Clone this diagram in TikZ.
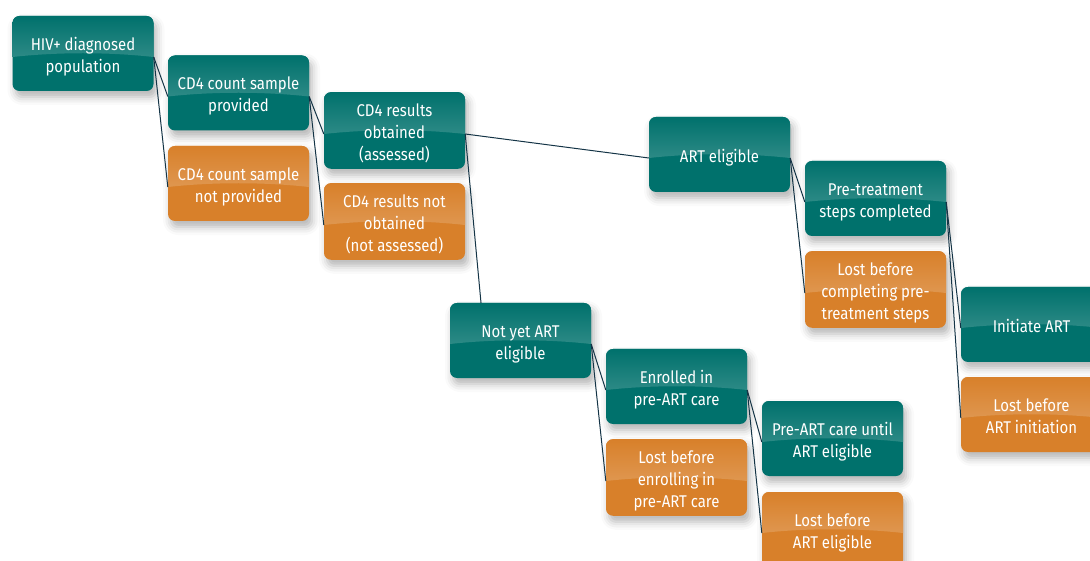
\documentclass[tikz,border=0pt]{standalone}
\usepackage{fontspec}
\setmainfont[FakeStretch=0.88]{Fira Sans}
\usetikzlibrary{shadows.blur}

\definecolor{tealbox}{RGB}{0,113,108}
\definecolor{orangebox}{RGB}{216,128,42}
\definecolor{linkcol}{RGB}{20,52,70}

% box text, set a little below the middle as in the reference
\newcommand{\boxtext}[1]{\begin{tabular}{@{}c@{}}\rule{0pt}{22pt}#1\end{tabular}}

\tikzset{
  box/.style={rectangle, rounded corners=7pt, minimum width=141pt, minimum height=75pt,
    inner sep=2pt, fill=#1, text=white,
    font=\fontsize{17}{22}\selectfont,
    blur shadow={shadow xshift=3pt, shadow yshift=-6pt, shadow blur radius=8pt, shadow opacity=30},
    path picture={
      \shade[sharp corners, top color=#1, bottom color=#1!68!white]
        (path picture bounding box.north west) -- (path picture bounding box.north east)
        -- ([yshift=-3.5pt]path picture bounding box.east)
        .. controls +(-45pt,5pt) and +(45pt,5pt) .. ([yshift=-3.5pt]path picture bounding box.west)
        -- cycle;
    }},
  stagebox/.style={box=tealbox},
  lostbox/.style={box=orangebox},
  link/.style={draw=linkcol, line width=1pt}
}

\begin{document}
\begin{tikzpicture}[x=1pt, y=-1pt]
    \useasboundingbox (0,0) rectangle (1090,561);
    \clip (0,0) rectangle (1090,561);

    % Cascade stages
    \node[stagebox] (hiv) at (83,53.5) {\boxtext{HIV+ diagnosed\\population}};
    \node[stagebox] (cdprov) at (238.5,93) {\boxtext{CD4 count sample\\provided}};
    \node[lostbox] (cdnot) at (238.5,183.5) {\boxtext{CD4 count sample\\not provided}};
    \node[stagebox] (resobt) at (394.5,130.5) {\boxtext{CD4 results\\obtained\\(assessed)}};
    \node[lostbox] (resnot) at (394.5,221.5) {\boxtext{CD4 results not\\obtained\\(not assessed)}};
    \node[stagebox] (arteli) at (719.5,154.5) {\boxtext{ART eligible}};
    \node[stagebox] (pretreat) at (875.5,198.5) {\boxtext{Pre-treatment\\steps completed}};
    \node[lostbox] (lostpre) at (875.5,289.5) {\boxtext{Lost before\\completing pre-\\treatment steps}};
    \node[stagebox] (initart) at (1031.5,324.5) {\boxtext{Initiate ART}};
    \node[lostbox] (lostinit) at (1031.5,414.5) {\boxtext{Lost before\\ART initiation}};

    % Not yet eligible branch
    \node[stagebox] (notyet) at (520.5,340.5) {\boxtext{Not yet ART\\eligible}};
    \node[stagebox] (enrolled) at (676.5,386.5) {\boxtext{Enrolled in\\pre-ART care}};
    \node[lostbox] (lostenrol) at (676.5,477.5) {\boxtext{Lost before\\enrolling in\\pre-ART care}};
    \node[stagebox] (preartcare) at (832.5,438.5) {\boxtext{Pre-ART care until\\ART eligible}};
    \node[lostbox] (losteli) at (832.5,529.5) {\boxtext{Lost before\\ART eligible}};

    % Links
    \foreach \a/\b in {hiv/cdprov, hiv/cdnot, cdprov/resobt, cdprov/resnot,
                       resobt/arteli, arteli/pretreat, arteli/lostpre,
                       pretreat/initart, pretreat/lostinit,
                       notyet/enrolled, notyet/lostenrol,
                       enrolled/preartcare, enrolled/losteli}
        \draw[link] ([yshift=-3.5pt]\a.east) -- ([yshift=-3.5pt]\b.west);
    \draw[link] ([yshift=-3.5pt]resobt.east) -- ([xshift=-39.5pt]notyet.north);
\end{tikzpicture}
\end{document}
